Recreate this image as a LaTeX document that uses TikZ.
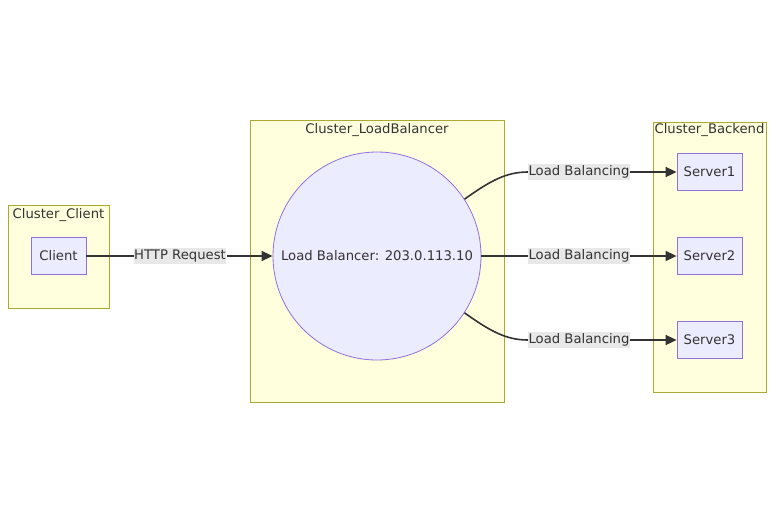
\documentclass[tikz,border=0pt]{standalone}
\usepackage{fontspec}
\setmainfont{DejaVu Sans}
\usetikzlibrary{arrows.meta}
\definecolor{clfill}{HTML}{FFFFDE}
\definecolor{cldraw}{HTML}{AAAA33}
\definecolor{ndfill}{HTML}{ECECFF}
\definecolor{nddraw}{HTML}{9370DB}
\definecolor{ink}{HTML}{333333}
\definecolor{lblbg}{HTML}{E8E8E8}
\tikzset{
  cluster/.style={draw=cldraw,fill=clfill,line width=0.8pt},
  srv/.style={draw=nddraw,fill=ndfill,line width=0.8pt,minimum width=65pt,minimum height=37pt,inner sep=0pt,text=ink},
  lblbox/.style={fill=lblbg,inner xsep=0.5pt,inner ysep=2pt,text=ink},
  ttl/.style={text=ink},
  link/.style={draw=ink,line width=1.6pt},
  tip/.style={-{Triangle[length=11pt,width=10pt]}}
}
\begin{document}
\begin{tikzpicture}[x=1pt,y=-1pt,font=\fontsize{13.2}{15}\selectfont]
\useasboundingbox (0,0) rectangle (773,523);
\draw[cluster](8,205)rectangle(109,308);
\draw[cluster](250,120)rectangle(504,402);
\draw[cluster](653,122)rectangle(766,392);
\node[ttl](tclient)at(58.5,215){Cluster\_Client};
\node[ttl](tlb)at(377,130){Cluster\_LoadBalancer};
\node[ttl](tback)at(709.5,130){Cluster\_Backend};
\node[srv,minimum width=55pt](client)at(58.5,256){Client};
\node[srv,circle,minimum size=208pt](lb)at(377,256){Load Balancer: 203.0.113.10};
\foreach \k/\yy in {1/172,2/256,3/340}{\node[srv](s\k)at(709.5,\yy){Server\k};}
\foreach \k/\yy in {1/172,2/256,3/340}{\node[lblbox](l\k)at(579,\yy){Load Balancing};}
\node[lblbox](lhttp)at(180,256){HTTP Request};
\draw[link](client)--(lhttp);
\draw[link,tip](lhttp)--(lb);
\draw[link](lb.33)..controls(490,181)and(506,172)..(l1.west);
\draw[link](lb)--(l2);
\draw[link](lb.-33)..controls(490,331)and(506,340)..(l3.west);
\foreach \k in {1,2,3}{\draw[link,tip](l\k)--(s\k);}
\end{tikzpicture}
\end{document}
